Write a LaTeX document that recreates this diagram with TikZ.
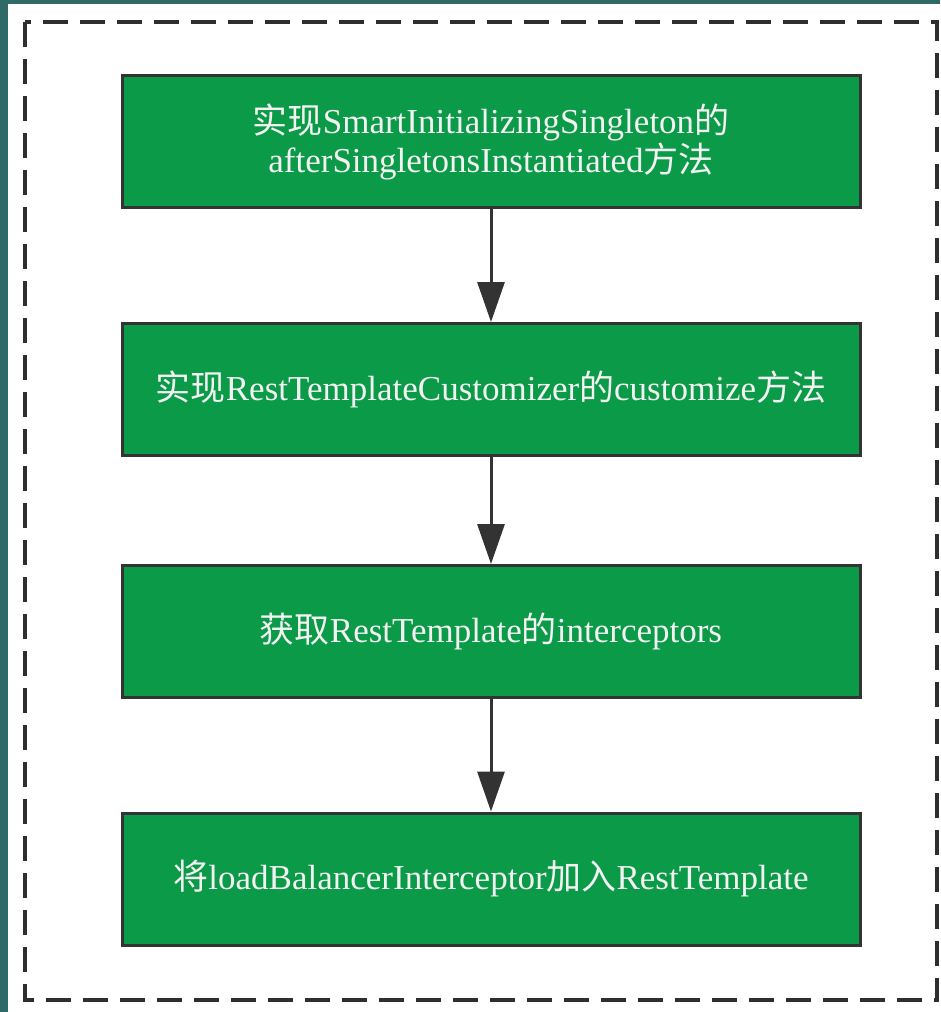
\documentclass[tikz,border=0pt]{standalone}
\usepackage{fontspec}
\setmainfont{Liberation Serif}
\newfontfamily\cjk{Noto Sans CJK SC}
\usetikzlibrary{arrows.meta}
\definecolor{stepgreen}{HTML}{0B9A48}
\definecolor{edgegray}{HTML}{333333}
\definecolor{frameteal}{HTML}{2F6A66}
\definecolor{labelwhite}{HTML}{F2F2F2}
\tikzset{
  stepbox/.style={draw=edgegray, line width=3pt, fill=stepgreen,
    minimum width=738pt, minimum height=132pt, inner sep=0pt,
    text=labelwhite, align=center,
    font=\fontsize{35}{39}\selectfont},
  flow/.style={draw=edgegray, line width=3pt,
    -{Triangle[length=40pt,width=27pt]}},
  outline/.style={draw=edgegray!90!black, line width=3.5pt,
    dash pattern=on 25pt off 12pt}
}
\begin{document}
\begin{tikzpicture}[x=1pt,y=-1pt]
  \useasboundingbox (0,0) rectangle (940,1012);
  % page backdrop and the teal edge of the window
  \fill[frameteal] (0,0) rectangle (940,1012);
  \fill[white] (8,4) rectangle (940,1012);
  % dashed group outline
  \draw[outline] (25,22) rectangle (937,1000);
  % steps
  \node[stepbox] (s1) at (491,141.5)
    {{\cjk 实现}SmartInitializingSingleton{\cjk 的}\\afterSingletonsInstantiated{\cjk 方法}};
  \node[stepbox] (s2) at (491,389.5)
    {{\cjk 实现}RestTemplateCustomizer{\cjk 的}customize{\cjk 方法}};
  \node[stepbox] (s3) at (491,631.5)
    {{\cjk 获取}RestTemplate{\cjk 的}interceptors};
  \node[stepbox] (s4) at (491,879)
    {{\cjk 将}loadBalancerInterceptor{\cjk 加入}RestTemplate};
  % connectors
  \draw[flow] (s1) -- (s2);
  \draw[flow] (s2) -- (s3);
  \draw[flow] (s3) -- (s4);
\end{tikzpicture}
\end{document}
